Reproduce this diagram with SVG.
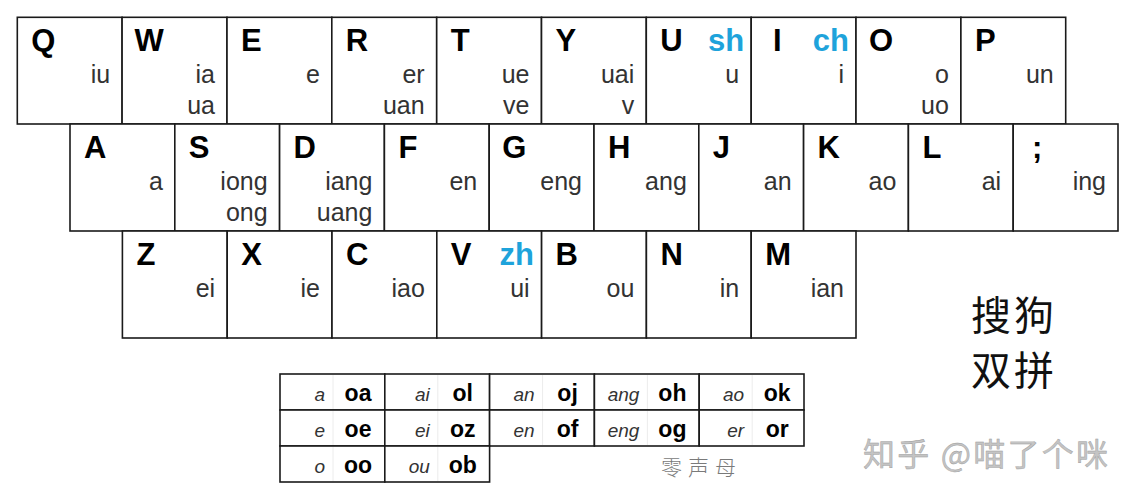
<svg xmlns="http://www.w3.org/2000/svg" width="1137" height="500" viewBox="0 0 1137 500">
<style>
.key{fill:#fff;stroke:#1a1a1a;stroke-width:1.6}
.k{font-family:"Liberation Sans",Arial,sans-serif;font-weight:bold;font-size:31px;fill:#000}
.b{font-family:"Liberation Sans",Arial,sans-serif;font-weight:bold;font-size:31px;fill:#1ea3db;text-anchor:end}
.s{font-family:"Liberation Sans",Arial,sans-serif;font-size:25px;fill:#333;text-anchor:end}
.cell{fill:#fff;stroke:#1a1a1a;stroke-width:1.6}
.sep{stroke:#ececec;stroke-width:1}
.ti{font-family:"Liberation Sans",Arial,sans-serif;font-style:italic;font-size:19px;fill:#333;text-anchor:end}
.tb{font-family:"Liberation Sans",Arial,sans-serif;font-weight:bold;font-size:23px;fill:#000;text-anchor:middle}
.cjk{font-family:"Noto Sans CJK SC",sans-serif}
</style>
<rect width="1137" height="500" fill="#fff"/>
<g id="row1">
<g id="key-Q"><rect class="key" x="17.3" y="17.3" width="104.8" height="106.7"/><text class="k" x="31.3" y="51">Q</text><text class="s" x="110.1" y="83">iu</text></g>
<g id="key-W"><rect class="key" x="122.1" y="17.3" width="104.9" height="106.7"/><text class="k" x="134.6" y="51">W</text><text class="s" x="215" y="83">ia</text><text class="s" x="215" y="114">ua</text></g>
<g id="key-E"><rect class="key" x="227" y="17.3" width="104.8" height="106.7"/><text class="k" x="241" y="51">E</text><text class="s" x="319.8" y="83">e</text></g>
<g id="key-R"><rect class="key" x="331.8" y="17.3" width="104.9" height="106.7"/><text class="k" x="345.8" y="51">R</text><text class="s" x="424.7" y="83">er</text><text class="s" x="424.7" y="114">uan</text></g>
<g id="key-T"><rect class="key" x="436.7" y="17.3" width="104.8" height="106.7"/><text class="k" x="450.7" y="51">T</text><text class="s" x="529.5" y="83">ue</text><text class="s" x="529.5" y="114">ve</text></g>
<g id="key-Y"><rect class="key" x="541.5" y="17.3" width="104.8" height="106.7"/><text class="k" x="555.5" y="51">Y</text><text class="s" x="634.3" y="83">uai</text><text class="s" x="634.3" y="114">v</text></g>
<g id="key-U"><rect class="key" x="646.3" y="17.3" width="104.9" height="106.7"/><text class="k" x="660.3" y="51">U</text><text class="b" x="744.2" y="51">sh</text><text class="s" x="739.2" y="83">u</text></g>
<g id="key-I"><rect class="key" x="751.2" y="17.3" width="104.8" height="106.7"/><text class="k" x="773" y="51">I</text><text class="b" x="849" y="51">ch</text><text class="s" x="844" y="83">i</text></g>
<g id="key-O"><rect class="key" x="856" y="17.3" width="104.9" height="106.7"/><text class="k" x="869" y="51">O</text><text class="s" x="948.9" y="83">o</text><text class="s" x="948.9" y="114">uo</text></g>
<g id="key-P"><rect class="key" x="960.9" y="17.3" width="104.8" height="106.7"/><text class="k" x="974.9" y="51">P</text><text class="s" x="1053.7" y="83">un</text></g>
</g>
<g id="row2">
<g id="key-A"><rect class="key" x="70" y="124" width="104.8" height="107"/><text class="k" x="84" y="158">A</text><text class="s" x="162.8" y="190">a</text></g>
<g id="key-S"><rect class="key" x="174.8" y="124" width="104.8" height="107"/><text class="k" x="188.8" y="158">S</text><text class="s" x="267.6" y="190">iong</text><text class="s" x="267.6" y="221">ong</text></g>
<g id="key-D"><rect class="key" x="279.6" y="124" width="104.8" height="107"/><text class="k" x="293.6" y="158">D</text><text class="s" x="372.4" y="190">iang</text><text class="s" x="372.4" y="221">uang</text></g>
<g id="key-F"><rect class="key" x="384.4" y="124" width="104.8" height="107"/><text class="k" x="398.4" y="158">F</text><text class="s" x="477.2" y="190">en</text></g>
<g id="key-G"><rect class="key" x="489.2" y="124" width="104.8" height="107"/><text class="k" x="502.2" y="158">G</text><text class="s" x="582" y="190">eng</text></g>
<g id="key-H"><rect class="key" x="594" y="124" width="104.8" height="107"/><text class="k" x="608" y="158">H</text><text class="s" x="686.8" y="190">ang</text></g>
<g id="key-J"><rect class="key" x="698.8" y="124" width="104.8" height="107"/><text class="k" x="712.8" y="158">J</text><text class="s" x="791.6" y="190">an</text></g>
<g id="key-K"><rect class="key" x="803.6" y="124" width="104.8" height="107"/><text class="k" x="817.6" y="158">K</text><text class="s" x="896.4" y="190">ao</text></g>
<g id="key-L"><rect class="key" x="908.4" y="124" width="104.8" height="107"/><text class="k" x="922.4" y="158">L</text><text class="s" x="1001.2" y="190">ai</text></g>
<g id="key-semicolon"><rect class="key" x="1013.2" y="124" width="104.8" height="107"/><text class="k" x="1032" y="158">;</text><text class="s" x="1106" y="190">ing</text></g>
</g>
<g id="row3">
<g id="key-Z"><rect class="key" x="122.4" y="231" width="104.8" height="107"/><text class="k" x="136.4" y="265">Z</text><text class="s" x="215.2" y="297">ei</text></g>
<g id="key-X"><rect class="key" x="227.2" y="231" width="104.8" height="107"/><text class="k" x="241.2" y="265">X</text><text class="s" x="320" y="297">ie</text></g>
<g id="key-C"><rect class="key" x="332" y="231" width="104.8" height="107"/><text class="k" x="346" y="265">C</text><text class="s" x="424.8" y="297">iao</text></g>
<g id="key-V"><rect class="key" x="436.8" y="231" width="104.8" height="107"/><text class="k" x="450.8" y="265">V</text><text class="b" x="534" y="265">zh</text><text class="s" x="529.6" y="297">ui</text></g>
<g id="key-B"><rect class="key" x="541.6" y="231" width="104.8" height="107"/><text class="k" x="555.6" y="265">B</text><text class="s" x="634.4" y="297">ou</text></g>
<g id="key-N"><rect class="key" x="646.4" y="231" width="104.8" height="107"/><text class="k" x="660.4" y="265">N</text><text class="s" x="739.2" y="297">in</text></g>
<g id="key-M"><rect class="key" x="751.2" y="231" width="104.8" height="107"/><text class="k" x="765.2" y="265">M</text><text class="s" x="844" y="297">ian</text></g>
</g>
<g id="zero-initial-table">
<g id="cell-a"><rect class="cell" x="280" y="374" width="104.8" height="36"/><line class="sep" x1="333" y1="375" x2="333" y2="409"/><text class="ti" x="325" y="401">a</text><text class="tb" x="358" y="401">oa</text></g>
<g id="cell-ai"><rect class="cell" x="384.8" y="374" width="104.8" height="36"/><line class="sep" x1="437.8" y1="375" x2="437.8" y2="409"/><text class="ti" x="429.8" y="401">ai</text><text class="tb" x="462.8" y="401">ol</text></g>
<g id="cell-an"><rect class="cell" x="489.6" y="374" width="104.8" height="36"/><line class="sep" x1="542.6" y1="375" x2="542.6" y2="409"/><text class="ti" x="534.6" y="401">an</text><text class="tb" x="567.6" y="401">oj</text></g>
<g id="cell-ang"><rect class="cell" x="594.4" y="374" width="104.8" height="36"/><line class="sep" x1="647.4" y1="375" x2="647.4" y2="409"/><text class="ti" x="639.4" y="401">ang</text><text class="tb" x="672.4" y="401">oh</text></g>
<g id="cell-ao"><rect class="cell" x="699.2" y="374" width="104.8" height="36"/><line class="sep" x1="752.2" y1="375" x2="752.2" y2="409"/><text class="ti" x="744.2" y="401">ao</text><text class="tb" x="777.2" y="401">ok</text></g>
<g id="cell-e"><rect class="cell" x="280" y="410" width="104.8" height="36"/><line class="sep" x1="333" y1="411" x2="333" y2="445"/><text class="ti" x="325" y="437">e</text><text class="tb" x="358" y="437">oe</text></g>
<g id="cell-ei"><rect class="cell" x="384.8" y="410" width="104.8" height="36"/><line class="sep" x1="437.8" y1="411" x2="437.8" y2="445"/><text class="ti" x="429.8" y="437">ei</text><text class="tb" x="462.8" y="437">oz</text></g>
<g id="cell-en"><rect class="cell" x="489.6" y="410" width="104.8" height="36"/><line class="sep" x1="542.6" y1="411" x2="542.6" y2="445"/><text class="ti" x="534.6" y="437">en</text><text class="tb" x="567.6" y="437">of</text></g>
<g id="cell-eng"><rect class="cell" x="594.4" y="410" width="104.8" height="36"/><line class="sep" x1="647.4" y1="411" x2="647.4" y2="445"/><text class="ti" x="639.4" y="437">eng</text><text class="tb" x="672.4" y="437">og</text></g>
<g id="cell-er"><rect class="cell" x="699.2" y="410" width="104.8" height="36"/><line class="sep" x1="752.2" y1="411" x2="752.2" y2="445"/><text class="ti" x="744.2" y="437">er</text><text class="tb" x="777.2" y="437">or</text></g>
<g id="cell-o"><rect class="cell" x="280" y="446" width="104.8" height="36"/><line class="sep" x1="333" y1="447" x2="333" y2="481"/><text class="ti" x="325" y="473">o</text><text class="tb" x="358" y="473">oo</text></g>
<g id="cell-ou"><rect class="cell" x="384.8" y="446" width="104.8" height="36"/><line class="sep" x1="437.8" y1="447" x2="437.8" y2="481"/><text class="ti" x="429.8" y="473">ou</text><text class="tb" x="462.8" y="473">ob</text></g>
</g>
<text id="zero-initial-label" class="cjk" x="661" y="475" font-size="21" letter-spacing="6" fill="#7a7a7a" font-weight="300">零声母</text>
<g id="title">
<text class="cjk" x="971" y="330" font-size="40" letter-spacing="3" fill="#111">搜狗</text>
<text class="cjk" x="971" y="385" font-size="40" letter-spacing="3" fill="#111">双拼</text>
</g>
<text id="watermark" class="cjk" x="863" y="466" font-size="32" fill="#c4c4c4" stroke="#9a9a9a" stroke-width="0.4" textLength="245">知乎 @喵了个咪</text>
</svg>
